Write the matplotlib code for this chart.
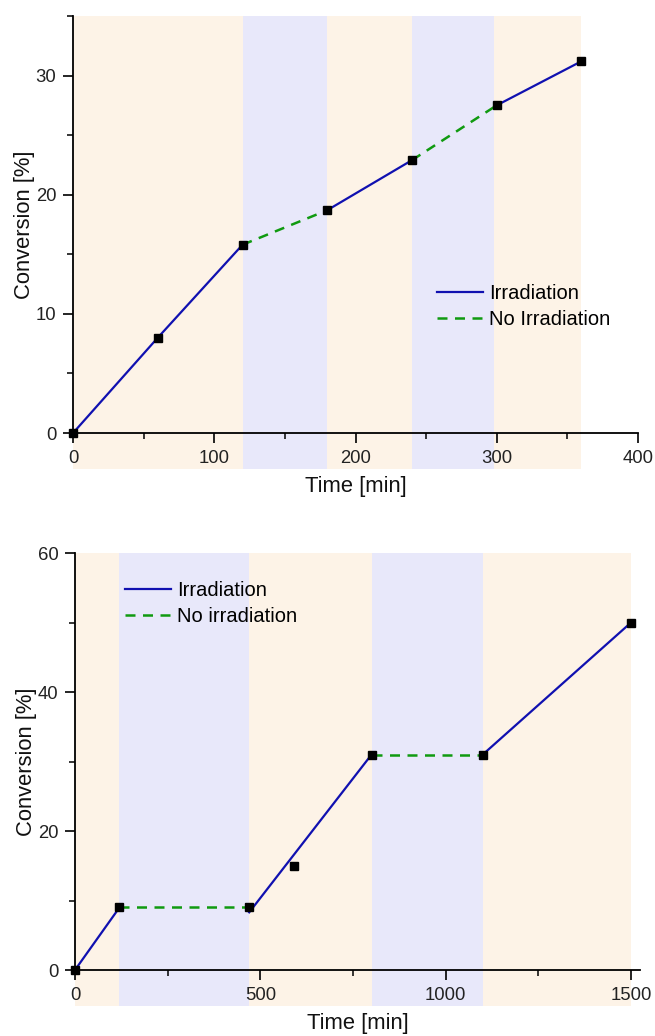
import matplotlib
matplotlib.use("Agg")
import matplotlib.pyplot as plt

plt.rcParams['font.family'] = ['Liberation Sans', 'DejaVu Sans']

# top panel: short cycles
time_top = [0, 60, 120, 180, 240, 300, 360]
conv_top = [0, 8.0, 15.8, 18.7, 22.9, 27.5, 31.2]
phase_edges_top = [0, 120, 180, 240, 298, 360]   # light / dark / light / dark / light

# bottom panel: long cycles
time_bot = [0, 120, 470, 590, 800, 1100, 1500]
conv_bot = [0, 9.0, 9.0, 15.0, 31.0, 31.0, 50.0]
phase_edges_bot = [0, 120, 470, 800, 1100, 1500]

# drawn lines (bottom one is a fit in the 470-800 window, not through the points)
irr_top = [([0, 60, 120], [0, 8.0, 15.8]), ([180, 240], [18.7, 22.9]), ([300, 360], [27.5, 31.2])]
dark_top = [([120, 180], [15.8, 18.7]), ([240, 300], [22.9, 27.5])]
irr_bot = [([0, 120], [0, 9.0]), ([470, 800], [8.3, 31.0]), ([1100, 1500], [31.0, 50.0])]
dark_bot = [([120, 470], [9.0, 9.0]), ([800, 1100], [31.0, 31.0])]

light_col = '#fdf3e7'
dark_col = '#e8e8fa'
blue = '#1010b0'
green = '#109a10'


def panel(ax, edges, t, c, irr, dark, labels, xlim, ylim, xmaj, xmin, ymaj, ymin, leg_anchor):
    for i in range(len(edges) - 1):
        col = light_col if i % 2 == 0 else dark_col
        ax.axvspan(edges[i], edges[i + 1], ymin=-0.087, ymax=1.0, color=col,
                   lw=0, zorder=0, clip_on=False)
    for k, (x, y) in enumerate(irr):
        ax.plot(x, y, color=blue, lw=1.6, zorder=3, label=labels[0] if k == 0 else None)
    for k, (x, y) in enumerate(dark):
        ax.plot(x, y, color=green, lw=1.8, ls=(0, (4, 3)), zorder=3,
                label=labels[1] if k == 0 else None)
    ax.plot(t, c, 's', color='black', ms=6, zorder=4, clip_on=False)

    ax.set_xlim(*xlim)
    ax.set_ylim(*ylim)
    ax.set_xticks(xmaj)
    ax.set_xticks(xmin, minor=True)
    ax.set_yticks(ymaj)
    ax.set_yticks(ymin, minor=True)
    ax.set_facecolor('none')
    for s in ['top', 'right']:
        ax.spines[s].set_visible(False)
    for s in ['left', 'bottom']:
        ax.spines[s].set_linewidth(1.3)
    ax.tick_params(which='major', length=7, width=1.2, labelsize=13.3, pad=5, labelcolor='#222222')
    ax.tick_params(which='minor', length=4, width=1.1)
    ax.set_xlabel('Time [min]', fontsize=15.8, color='#111111')
    ax.set_ylabel('Conversion [%]', fontsize=15.8, color='#111111')
    ax.xaxis.set_label_coords(0.5, -0.103)
    ax.yaxis.set_label_coords(-0.067, 0.5)
    ax.legend(loc='upper left', bbox_to_anchor=leg_anchor, frameon=False, fontsize=14.5,
              handlelength=2.29, handletextpad=0.3, labelspacing=0.37,
              borderpad=0, borderaxespad=0)


fig = plt.figure(figsize=(6.55, 10.36), dpi=100)
ax1 = fig.add_axes([0.1115, 0.582, 0.8625, 0.4026])
ax2 = fig.add_axes([0.1145, 0.0637, 0.8625, 0.4025])

panel(ax1, phase_edges_top, time_top, conv_top, irr_top, dark_top,
      ['Irradiation', 'No Irradiation'], (0, 400), (0, 35),
      [0, 100, 200, 300, 400], [50, 150, 250, 350], [0, 10, 20, 30], [5, 15, 25, 35],
      (0.644, 0.358))
panel(ax2, phase_edges_bot, time_bot, conv_bot, irr_bot, dark_bot,
      ['Irradiation', 'No irradiation'], (0, 1524), (0, 60),
      [0, 500, 1000, 1500], [250, 750, 1250], [0, 20, 40, 60], [10, 30, 50],
      (0.0885, 0.9336))

fig.savefig('out.png', dpi=100)
